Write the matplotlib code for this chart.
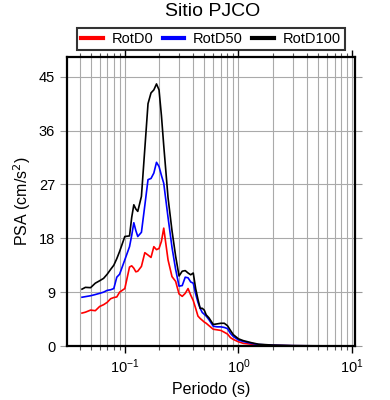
import matplotlib
matplotlib.use('Agg')
import matplotlib.pyplot as plt
from matplotlib.ticker import LogLocator, NullFormatter, FixedLocator

plt.rcParams['font.family'] = ['Liberation Sans', 'DejaVu Sans']

# periodos (s) y espectros PSA (cm/s2)
periods = [0.042, 0.045, 0.05, 0.055, 0.06, 0.065, 0.07, 0.075, 0.08, 0.085,
           0.09, 0.1, 0.11, 0.115, 0.12, 0.125, 0.13, 0.14, 0.15, 0.16,
           0.17, 0.18, 0.19, 0.2, 0.21, 0.22, 0.24, 0.26, 0.28, 0.30,
           0.32, 0.34, 0.36, 0.38, 0.40, 0.42, 0.44, 0.46, 0.48, 0.50,
           0.52, 0.55, 0.60, 0.65, 0.70, 0.75, 0.80, 0.85, 0.90, 1.0,
           1.1, 1.3, 1.5, 2.0, 3.0, 5.0, 7.0, 10.0]

rotd0 = [5.5, 5.65, 6.0, 5.9, 6.6, 6.9, 7.3, 7.9, 8.1, 8.2,
         9.0, 9.6, 13.2, 13.4, 13.0, 12.4, 12.5, 13.3, 15.6, 15.2,
         14.8, 16.6, 16.1, 16.3, 17.5, 19.7, 14.4, 11.6, 10.8, 8.7,
         8.3, 8.8, 9.6, 8.5, 7.6, 6.3, 5.0, 4.6, 4.3, 4.0,
         3.8, 3.4, 2.8, 2.7, 2.6, 2.3, 2.0, 1.4, 1.1, 0.7,
         0.45, 0.3, 0.2, 0.1, 0.04, 0.02, 0.01, 0.01]

rotd50 = [8.15, 8.25, 8.4, 8.6, 8.8, 9.0, 9.3, 9.4, 9.6, 11.5,
          12.0, 14.4, 16.6, 18.5, 20.6, 19.3, 18.3, 19.0, 23.5, 27.8,
          28.0, 28.9, 30.7, 30.0, 28.5, 27.2, 21.5, 16.5, 12.8, 10.0,
          10.1, 11.5, 11.4, 10.7, 10.5, 8.7, 7.3, 6.3, 5.6, 5.3,
          5.0, 4.4, 3.3, 3.2, 3.2, 3.1, 2.9, 2.1, 1.6, 1.0,
          0.75, 0.45, 0.25, 0.12, 0.05, 0.02, 0.015, 0.01]

rotd100 = [9.5, 9.8, 9.75, 10.5, 10.9, 11.3, 12.0, 12.8, 13.5, 14.6,
           15.8, 18.3, 18.4, 21.5, 23.6, 22.9, 22.5, 25.0, 33.0, 40.5,
           42.3, 42.8, 43.8, 42.8, 38.5, 33.5, 24.8, 19.3, 15.0, 11.7,
           12.5, 12.6, 12.2, 11.9, 12.2, 9.6, 7.8, 6.3, 6.3, 6.0,
           5.2, 4.7, 3.6, 3.7, 3.8, 3.8, 3.4, 2.6, 1.9, 1.2,
           0.9, 0.55, 0.3, 0.15, 0.06, 0.03, 0.02, 0.01]

y_ticks = [0, 9, 18, 27, 36, 45]

fig = plt.figure(figsize=(3.9, 4.0), dpi=100)
ax = fig.add_axes([0.1718, 0.135, 0.7385, 0.7225])

ax.plot(periods, rotd0, color='red', lw=1.2, label='RotD0')
ax.plot(periods, rotd50, color='blue', lw=1.2, label='RotD50')
ax.plot(periods, rotd100, color='black', lw=1.2, label='RotD100')

ax.set_xscale('log')
ax.set_xlim(0.031, 10.6)
ax.set_ylim(0, 48.3)
ax.yaxis.set_major_locator(FixedLocator(y_ticks))
ax.xaxis.set_major_locator(LogLocator(base=10))
ax.xaxis.set_minor_locator(LogLocator(base=10, subs=range(2, 10)))
ax.xaxis.set_minor_formatter(NullFormatter())

ax.grid(True, which='major', axis='both', color='#aaaaaa', lw=0.8)
ax.grid(True, which='minor', axis='x', color='#aaaaaa', lw=0.8)

ax.tick_params(axis='x', which='major', direction='out', length=5, width=1,
               top=True, labelsize=10.5, colors='black')
ax.tick_params(axis='x', which='minor', direction='out', length=3, width=0.8,
               top=True, color='#555555')
ax.tick_params(axis='y', which='major', direction='out', length=5, width=0.8,
               right=True, labelsize=10.5, color='#999999', labelcolor='black')

for sp in ax.spines.values():
    sp.set_linewidth(1.6)

ax.set_xlabel('Periodo (s)', fontsize=11.5, labelpad=4)
ax.set_ylabel('PSA (cm/s$^2$)', fontsize=11.5, labelpad=4)

fig.text(0.545, 0.97, 'Sitio PJCO', ha='center', va='center', fontsize=14)

leg = ax.legend(loc='center', bbox_to_anchor=(0.5, 1.062), ncol=3,
                frameon=True, fancybox=False, edgecolor='black', fontsize=10.5,
                handlelength=1.5, handletextpad=0.6, columnspacing=0.6,
                borderpad=0.3, borderaxespad=0)
leg.get_frame().set_linewidth(1.5)
for line in leg.get_lines():
    line.set_linewidth(3)

fig.savefig('out.png', dpi=100)
